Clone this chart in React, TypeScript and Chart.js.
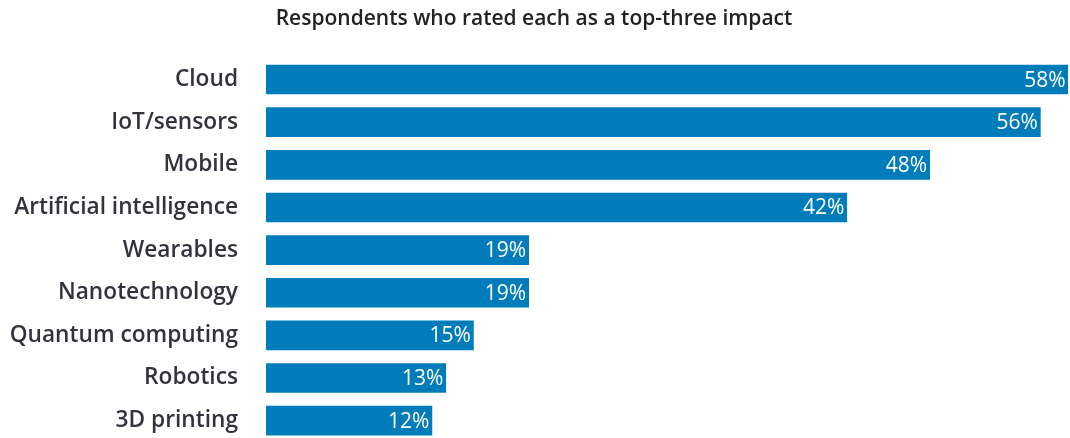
import React, { useEffect, useRef } from "react";
import { Chart, registerables } from "chart.js";

Chart.register(...registerables);

const categories = [
  "Cloud",
  "IoT/sensors",
  "Mobile",
  "Artificial intelligence",
  "Wearables",
  "Nanotechnology",
  "Quantum computing",
  "Robotics",
  "3D printing",
];
const values = [58, 56, 48, 42, 19, 19, 15, 13, 12];
const titleText = "Respondents who rated each as a top-three impact";

const BAR_COLOR = "#007CBA";

const valueLabelPlugin = {
  id: "valueLabels",
  afterDatasetsDraw(chart: any) {
    const ctx = chart.ctx;
    const meta = chart.getDatasetMeta(0);
    ctx.save();
    ctx.font = "400 21px 'Open Sans'";
    ctx.fillStyle = "#ffffff";
    ctx.textAlign = "right";
    ctx.textBaseline = "middle";
    meta.data.forEach((el: any, i: number) => {
      ctx.fillText(values[i] + "%", el.x - 2.5, el.y + 1);
    });
    ctx.restore();
  },
};

export default function App() {
  const ref = useRef<HTMLCanvasElement | null>(null);
  useEffect(() => {
    document.body.style.margin = "0";
    document.body.style.overflow = "hidden";
    const chart = new Chart(ref.current as HTMLCanvasElement, {
      type: "bar",
      data: {
        labels: categories,
        datasets: [
          {
            data: values,
            backgroundColor: BAR_COLOR,
            barThickness: 29,
            borderWidth: 0,
          },
        ],
      },
      plugins: [valueLabelPlugin],
      options: {
        indexAxis: "y",
        animation: false,
        responsive: true,
        maintainAspectRatio: false,
        layout: { padding: { left: 0, right: 2, top: 0, bottom: 0 } },
        plugins: {
          legend: { display: false },
          tooltip: { enabled: false },
          title: {
            display: true,
            text: titleText,
            color: "#222222",
            font: { family: "'Open Sans'", size: 21, weight: "600", lineHeight: 1.2 },
            padding: { top: 6, bottom: 27 },
          },
        },
        scales: {
          x: {
            display: false,
            min: 0,
            max: 58,
          },
          y: {
            grid: { display: false },
            border: { display: false },
            ticks: {
              color: "#33333d",
              padding: 20,
              font: { family: "'Open Sans'", size: 22.7, weight: "600" },
            },
            afterFit(scale: any) {
              scale.width = 266;
              scale.paddingTop = 0;
              scale.paddingBottom = 0;
            },
          },
        },
      },
    } as any);
    return () => chart.destroy();
  }, []);
  return (
    <div style={{ width: 1070, height: 438, overflow: "hidden" }}>
      <div style={{ position: "relative", width: 1070, height: 442 }}>
        <canvas ref={ref} />
      </div>
    </div>
  );
}
